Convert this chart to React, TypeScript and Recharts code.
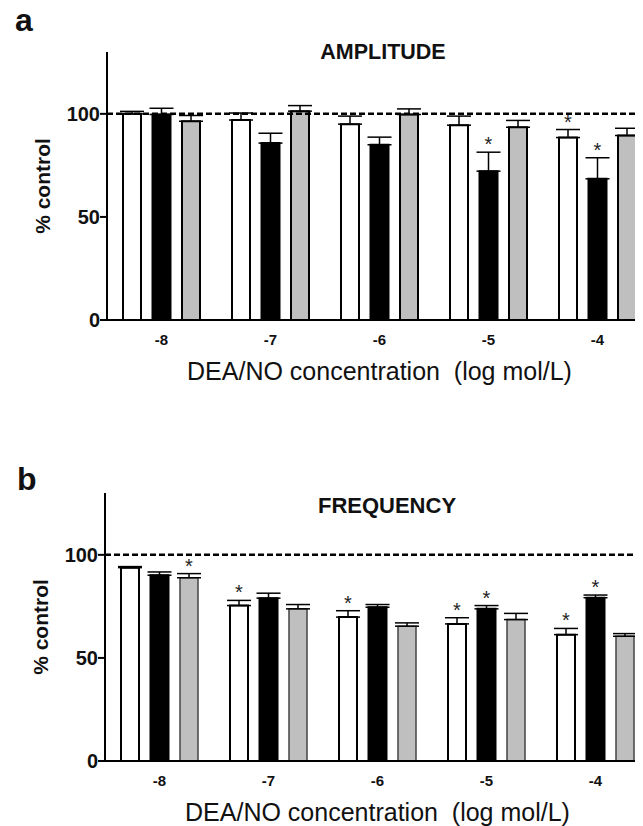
import React from "react";
import { BarChart, Bar, XAxis, YAxis, ReferenceLine, ErrorBar, LabelList } from "recharts";

const FONT = "'Liberation Sans', Arial, Helvetica, sans-serif";

const concentrations = ["-8", "-7", "-6", "-5", "-4"];
const yTicks = [0, 50, 100];

// panel a: amplitude (% control), mean and upper SEM
const ampWhite = [100, 97, 95, 94.5, 88.5];
const ampWhiteErr = [1.2, 3.4, 3.9, 4.4, 3.9];
const ampBlack = [99.7, 85.8, 85, 72.2, 68.5];
const ampBlackErr = [3, 4.8, 3.7, 9.2, 10.2];
const ampGray = [96.4, 101.3, 99.7, 93.5, 89.5];
const ampGrayErr = [2.8, 2.7, 2.7, 3.3, 3.5];
const ampWhiteStar = [false, false, false, false, true];
const ampBlackStar = [false, false, false, true, true];
const ampGrayStar = [false, false, false, false, false];

// panel b: frequency (% control)
const freqWhite = [93.8, 75.4, 69.8, 66.5, 61.3];
const freqWhiteErr = [0.5, 2.5, 3.1, 3, 3];
const freqBlack = [90.1, 79, 74.6, 73.8, 79.2];
const freqBlackErr = [1.6, 2.4, 1.3, 1.6, 1.3];
const freqGray = [88.9, 73.8, 65.4, 68.6, 60.5];
const freqGrayErr = [2, 2.1, 1.6, 3, 1.3];
const freqWhiteStar = [false, true, true, true, true];
const freqBlackStar = [false, false, false, true, true];
const freqGrayStar = [true, false, false, false, false];

function buildRows(w: number[], we: number[], b: number[], be: number[], g: number[], ge: number[]) {
  return concentrations.map((c, i) => ({
    conc: c,
    white: w[i],
    whiteErr: [0, we[i]],
    black: b[i],
    blackErr: [0, be[i]],
    gray: g[i],
    grayErr: [0, ge[i]],
  }));
}

// asterisk above the error bar, placed from the bar's own geometry
function starContent(stars: boolean[], errs: number[]) {
  return (props: any) => {
    const { index, value } = props;
    if (!stars[index]) return null;
    const vb = props.viewBox ?? props;
    const x = Number(vb.x);
    const y = Number(vb.y);
    const width = Number(vb.width);
    const height = Number(vb.height);
    const perUnit = height / Number(value);
    const errTop = y - errs[index] * perUnit;
    return (
      <text x={x + width / 2} y={errTop - 1} textAnchor="middle" fontSize={20} fontFamily={FONT} fill="#222">
        *
      </text>
    );
  };
}

interface PanelProps {
  rows: ReturnType<typeof buildRows>;
  errs: number[][];
  stars: boolean[][];
  axisWidth: number;
  grayStroke: string;
  grayStrokeWidth: number;
}

function Panel({ rows, errs, stars, axisWidth, grayStroke, grayStrokeWidth }: PanelProps) {
  return (
    <BarChart
      width={axisWidth + 545 + 6}
      height={382}
      data={rows}
      margin={{ top: 44, right: 6, bottom: 0, left: 0 }}
      barSize={18}
      barGap={11.5}
    >
      <YAxis
        width={axisWidth}
        domain={[0, 130]}
        ticks={yTicks}
        tickSize={7}
        tickMargin={0}
        axisLine={{ stroke: "#000", strokeWidth: 2 }}
        tickLine={{ stroke: "#000", strokeWidth: 2 }}
        tick={{ fill: "#111", fontSize: 20, fontWeight: "bold", fontFamily: FONT }}
        label={(p: any) => {
          const vb = p.viewBox;
          const cx = axisWidth - 57;
          const cy = vb.y + vb.height / 2;
          return (
            <text
              x={cx}
              y={cy}
              transform={`rotate(-90 ${cx} ${cy})`}
              textAnchor="middle"
              fontSize={21}
              fontWeight="bold"
              fontFamily={FONT}
              fill="#111"
            >
              % control
            </text>
          );
        }}
      />
      <XAxis
        dataKey="conc"
        height={70}
        tickLine={false}
        tickSize={0}
        tickMargin={14}
        axisLine={{ stroke: "#000", strokeWidth: 2 }}
        tick={{ fill: "#111", fontSize: 15, fontWeight: "bold", fontFamily: FONT }}
        label={{
          value: "DEA/NO concentration\u00A0 (log mol/L)",
          position: "insideBottom",
          offset: 10,
          style: { fill: "#111", fontSize: 25, fontFamily: FONT },
        }}
      />
      <ReferenceLine y={100} stroke="#000" strokeWidth={2.5} strokeDasharray="6 3" />
      <Bar dataKey="white" fill="#fff" stroke="#000" strokeWidth={2} isAnimationActive={false}>
        <ErrorBar dataKey="whiteErr" width={12} stroke="#000" strokeWidth={1.5} direction="y" isAnimationActive={false} />
        <LabelList dataKey="white" content={starContent(stars[0], errs[0])} />
      </Bar>
      <Bar dataKey="black" fill="#000" stroke="#000" strokeWidth={2} isAnimationActive={false}>
        <ErrorBar dataKey="blackErr" width={12} stroke="#000" strokeWidth={1.5} direction="y" isAnimationActive={false} />
        <LabelList dataKey="black" content={starContent(stars[1], errs[1])} />
      </Bar>
      <Bar dataKey="gray" fill="#bfbfbf" stroke={grayStroke} strokeWidth={grayStrokeWidth} isAnimationActive={false}>
        <ErrorBar dataKey="grayErr" width={12} stroke="#000" strokeWidth={1.5} direction="y" isAnimationActive={false} />
        <LabelList dataKey="gray" content={starContent(stars[2], errs[2])} />
      </Bar>
    </BarChart>
  );
}

export default function App() {
  const ampRows = buildRows(ampWhite, ampWhiteErr, ampBlack, ampBlackErr, ampGray, ampGrayErr);
  const freqRows = buildRows(freqWhite, freqWhiteErr, freqBlack, freqBlackErr, freqGray, freqGrayErr);
  return (
    <div style={{ position: "relative", width: 635, height: 818 }}>
      <div style={{ position: "absolute", left: 0, top: 0, width: 635, height: 818, overflow: "hidden", background: "#fff" }}>
        <div style={{ position: "absolute", left: 0, top: 0 }}>
          <Panel
            rows={ampRows}
            errs={[ampWhiteErr, ampBlackErr, ampGrayErr]}
            stars={[ampWhiteStar, ampBlackStar, ampGrayStar]}
            axisWidth={99}
            grayStroke="#000"
            grayStrokeWidth={2}
          />
        </div>
        <div style={{ position: "absolute", left: 0, top: 441 }}>
          <Panel
            rows={freqRows}
            errs={[freqWhiteErr, freqBlackErr, freqGrayErr]}
            stars={[freqWhiteStar, freqBlackStar, freqGrayStar]}
            axisWidth={97}
            grayStroke="#444"
            grayStrokeWidth={1.5}
          />
        </div>
      </div>
      <svg width={643} height={826} style={{ position: "absolute", left: -8, top: -8, pointerEvents: "none" }}>
        <text x={15} y={31} fontSize={32} fontWeight="bold" fontFamily={FONT} fill="#111">a</text>
        <text x={383} y={59} textAnchor="middle" fontSize={21.5} fontWeight="bold" fontFamily={FONT} fill="#111">
          AMPLITUDE
        </text>
        <text x={17} y={490} fontSize={32} fontWeight="bold" fontFamily={FONT} fill="#111">b</text>
        <text x={387} y={513} textAnchor="middle" fontSize={22} fontWeight="bold" fontFamily={FONT} fill="#111">
          FREQUENCY
        </text>
      </svg>
    </div>
  );
}
